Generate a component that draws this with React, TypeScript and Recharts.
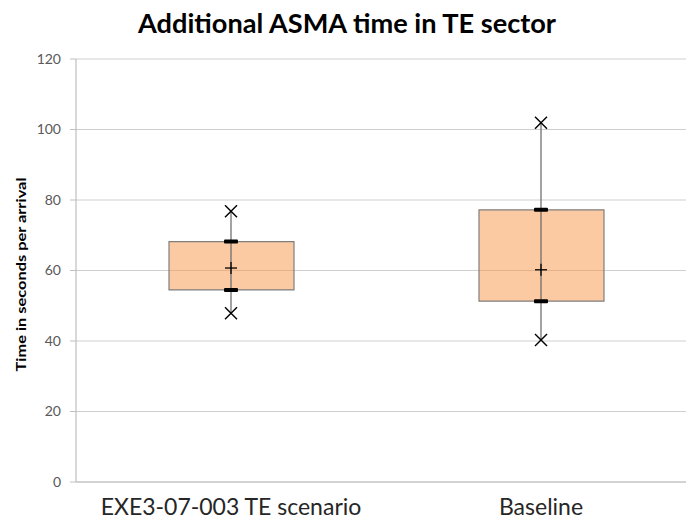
import React from 'react';
import { ComposedChart, Bar, Scatter, ErrorBar, XAxis, YAxis, CartesianGrid } from 'recharts';

const categories = ['EXE3-07-003 TE scenario', 'Baseline'];
const minValues = [47.9, 40.3];
const q1Values = [54.5, 51.3];
const meanValues = [60.7, 60.2];
const q3Values = [68.2, 77.2];
const maxValues = [76.8, 101.9];
const yTicks = [0, 20, 40, 60, 80, 100, 120];
const boundaryTicks = [0, 1, 2];

const data = categories.map((name, i) => ({
  name,
  base: q1Values[i],
  iqr: q3Values[i] - q1Values[i],
  min: minValues[i],
  q1: q1Values[i],
  mean: meanValues[i],
  q3: q3Values[i],
  max: maxValues[i],
  whisker: [meanValues[i] - minValues[i], maxValues[i] - meanValues[i]],
}));

const FONT = 'Lato, "Liberation Sans", sans-serif';

const XMark = (props: any) => {
  const { cx, cy } = props;
  const s = 6;
  return (
    <g>
      <line x1={cx - s} y1={cy - s} x2={cx + s} y2={cy + s} stroke="#000" strokeWidth={1.4} />
      <line x1={cx - s} y1={cy + s} x2={cx + s} y2={cy - s} stroke="#000" strokeWidth={1.4} />
    </g>
  );
};

const PlusMark = (props: any) => {
  const { cx, cy } = props;
  const s = 6;
  return (
    <g>
      <line x1={cx - s} y1={cy} x2={cx + s} y2={cy} stroke="#000" strokeWidth={1.3} />
      <line x1={cx} y1={cy - s} x2={cx} y2={cy + s} stroke="#000" strokeWidth={1.3} />
    </g>
  );
};

const QuartileMark = (props: any) => {
  const { cx, cy } = props;
  return <rect x={cx - 7} y={cy - 2} width={14} height={4} fill="#000" rx={1} />;
};

const EmptyTick = () => <g />;

const YLabel = (props: any) => {
  const vb = props.viewBox || {};
  const cy = (vb.y ?? 59) + (vb.height ?? 423) / 2 + 4;
  return (
    <text
      x={21}
      y={cy}
      transform={`rotate(-90, 21, ${cy})`}
      textAnchor="middle"
      dominantBaseline="central"
      fontFamily={FONT}
      fontWeight="bold"
      fontSize={13.5}
      textLength={194}
      lengthAdjust="spacingAndGlyphs"
      fill="#000"
    >
      Time in seconds per arrival
    </text>
  );
};

export default function App() {
  return (
    <div style={{ position: 'absolute', left: 0, top: 0, width: 686, height: 522, overflow: 'hidden', background: '#fff' }}>
      <svg width={686} height={50} style={{ position: 'absolute', left: 0, top: 0 }}>
        <text
          x={347}
          y={33}
          textAnchor="middle"
          fontFamily={FONT}
          fontWeight="bold"
          fontSize={27}
          textLength={418}
          lengthAdjust="spacingAndGlyphs"
          fill="#000"
        >
          Additional ASMA time in TE sector
        </text>
      </svg>
      <div style={{ position: 'absolute', left: 0, top: 0 }}>
        <ComposedChart
          width={696}
          height={522}
          data={data}
          margin={{ top: 59, right: 0, bottom: 0, left: 0 }}
          barCategoryGap={0}
        >
          <CartesianGrid vertical={false} stroke="#cfcfcf" strokeWidth={1.2} />
          <XAxis
            xAxisId="bounds"
            type="number"
            domain={[0, 2]}
            ticks={boundaryTicks}
            tick={<EmptyTick />}
            axisLine={false}
            tickLine={{ stroke: '#bfbfbf' }}
            tickSize={5}
            height={0}
          />
          <XAxis
            dataKey="name"
            tickLine={false}
            axisLine={{ stroke: '#bfbfbf', strokeWidth: 1.2 }}
            height={40}
            tickMargin={11}
            tick={{ fontFamily: FONT, fontSize: 23, fill: '#262626' }}
            interval={0}
          />
          <YAxis
            domain={[0, 120]}
            ticks={yTicks}
            width={76}
            tickSize={6}
            tickMargin={9}
            axisLine={{ stroke: '#bfbfbf', strokeWidth: 1.2 }}
            tickLine={{ stroke: '#bfbfbf' }}
            tick={{ fontFamily: FONT, fontSize: 14, fill: '#595959' }}
            label={<YLabel />}
          />
          <Bar dataKey="base" stackId="box" fill="transparent" barSize={125} isAnimationActive={false} />
          <Bar
            dataKey="iqr"
            stackId="box"
            fill="#F79646"
            fillOpacity={0.5}
            stroke="#7f7f7f"
            strokeWidth={1.2}
            barSize={125}
            isAnimationActive={false}
          />
          <Scatter dataKey="mean" shape={<PlusMark />} isAnimationActive={false}>
            <ErrorBar dataKey="whisker" direction="y" width={0} stroke="#666" strokeWidth={1.2} />
          </Scatter>
          <Scatter dataKey="q1" shape={<QuartileMark />} isAnimationActive={false} />
          <Scatter dataKey="q3" shape={<QuartileMark />} isAnimationActive={false} />
          <Scatter dataKey="min" shape={<XMark />} isAnimationActive={false} />
          <Scatter dataKey="max" shape={<XMark />} isAnimationActive={false} />
        </ComposedChart>
      </div>
    </div>
  );
}
